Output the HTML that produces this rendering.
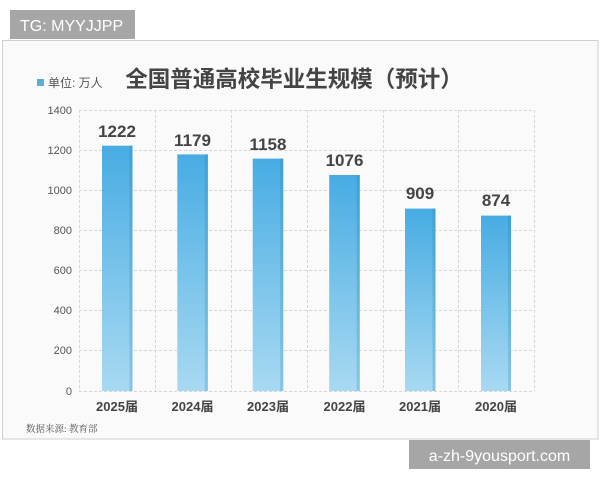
<!DOCTYPE html>
<html><head><meta charset="utf-8">
<style>
html,body{margin:0;padding:0;background:#fff;}
body{width:600px;height:480px;overflow:hidden;position:relative;font-family:"Liberation Sans","Noto Sans CJK SC",sans-serif;}
</style></head>
<body>
<svg width="600" height="480" viewBox="0 0 600 480" xmlns="http://www.w3.org/2000/svg" style="position:absolute;left:0;top:0">
<defs>
<linearGradient id="g" x1="0" y1="0" x2="0" y2="1">
<stop offset="0" stop-color="#47ace3"/>
<stop offset="0.5" stop-color="#78c3ea"/>
<stop offset="1" stop-color="#a8d9f2"/>
</linearGradient>
<linearGradient id="e" x1="0" y1="0" x2="0" y2="1">
<stop offset="0" stop-color="#3f9fd4"/>
<stop offset="1" stop-color="#86c5e4"/>
</linearGradient>
</defs>
<rect x="2.5" y="40.5" width="595.5" height="398.5" fill="#fafafa" stroke="#cfcfcf" stroke-width="1"/>
<!-- grid -->
<g stroke="#d6d6d6" stroke-width="1" stroke-dasharray="3,2" fill="none">
<line x1="79" y1="110.5" x2="534" y2="110.5"/>
<line x1="79" y1="150.5" x2="534" y2="150.5"/>
<line x1="79" y1="190.5" x2="534" y2="190.5"/>
<line x1="79" y1="230.5" x2="534" y2="230.5"/>
<line x1="79" y1="270.5" x2="534" y2="270.5"/>
<line x1="79" y1="310.5" x2="534" y2="310.5"/>
<line x1="79" y1="350.5" x2="534" y2="350.5"/>
<line x1="79" y1="391.5" x2="534" y2="391.5"/>
<line x1="79.5" y1="110" x2="79.5" y2="391"/>
<line x1="155.5" y1="110" x2="155.5" y2="391"/>
<line x1="231.5" y1="110" x2="231.5" y2="391"/>
<line x1="307.5" y1="110" x2="307.5" y2="391"/>
<line x1="383.5" y1="110" x2="383.5" y2="391"/>
<line x1="458.5" y1="110" x2="458.5" y2="391"/>
<line x1="534.5" y1="110" x2="534.5" y2="391"/>
</g>
<!-- y labels -->
<g font-size="11" fill="#555" text-anchor="end" font-family="Liberation Sans, sans-serif">
<text x="72" y="114">1400</text>
<text x="72" y="154">1200</text>
<text x="72" y="194">1000</text>
<text x="72" y="234">800</text>
<text x="72" y="274">600</text>
<text x="72" y="314">400</text>
<text x="72" y="354">200</text>
<text x="72" y="395">0</text>
</g>
<!-- bars -->
<g>
<rect x="102" y="145.7" width="30.5" height="245.3" fill="url(#g)"/>
<rect x="129.5" y="145.7" width="3" height="245.3" fill="url(#e)"/>
<rect x="177.3" y="154.4" width="30.5" height="236.6" fill="url(#g)"/>
<rect x="204.8" y="154.4" width="3" height="236.6" fill="url(#e)"/>
<rect x="252.7" y="158.6" width="30.5" height="232.4" fill="url(#g)"/>
<rect x="280.2" y="158.6" width="3" height="232.4" fill="url(#e)"/>
<rect x="329.2" y="175" width="30.5" height="216" fill="url(#g)"/>
<rect x="356.7" y="175" width="3" height="216" fill="url(#e)"/>
<rect x="405" y="208.6" width="30.5" height="182.4" fill="url(#g)"/>
<rect x="432.5" y="208.6" width="3" height="182.4" fill="url(#e)"/>
<rect x="481" y="215.6" width="30" height="175.4" fill="url(#g)"/>
<rect x="508" y="215.6" width="3" height="175.4" fill="url(#e)"/>
</g>
<!-- value labels -->
<g font-size="17" font-weight="bold" fill="#444" text-anchor="middle" font-family="Liberation Sans, sans-serif">
<text x="117" y="137">1222</text>
<text x="192.5" y="146">1179</text>
<text x="268" y="150">1158</text>
<text x="344.5" y="166">1076</text>
<text x="420" y="199">909</text>
<text x="496" y="206">874</text>
</g>
<!-- x labels -->
<g font-size="13" font-weight="bold" fill="#444" text-anchor="middle" font-family="Liberation Sans, Noto Sans CJK SC, sans-serif">
<text x="117" y="411">2025届</text>
<text x="192.5" y="411">2024届</text>
<text x="268" y="411">2023届</text>
<text x="344.5" y="411">2022届</text>
<text x="420" y="411">2021届</text>
<text x="496" y="411">2020届</text>
</g>
<!-- title -->
<text x="294" y="87" font-size="22.5" font-weight="bold" fill="#444" text-anchor="middle" font-family="Liberation Sans, Noto Sans CJK SC, sans-serif">全国普通高校毕业生规模（预计）</text>
<!-- legend -->
<rect x="37" y="79" width="7" height="7" fill="#5aaed4"/>
<text x="48" y="87" font-size="12" fill="#555" font-family="Liberation Sans, Noto Sans CJK SC, sans-serif">单位: 万人</text>
<!-- source -->
<text x="26" y="432" font-size="9.5" fill="#555" font-family="Liberation Serif, Noto Serif CJK SC, serif">数据来源: 教育部</text>
<!-- watermark boxes -->
<rect x="10" y="10" width="125" height="29" fill="#a6a6a6"/>
<text x="20" y="31" font-size="16" fill="#fff" font-family="Liberation Sans, sans-serif">TG: MYYJJPP</text>
<rect x="409" y="440" width="181" height="29" fill="#a6a6a6"/>
<text x="499.5" y="461" font-size="16" fill="#fff" text-anchor="middle" font-family="Liberation Sans, sans-serif">a-zh-9yousport.com</text>
</svg>
</body></html>
